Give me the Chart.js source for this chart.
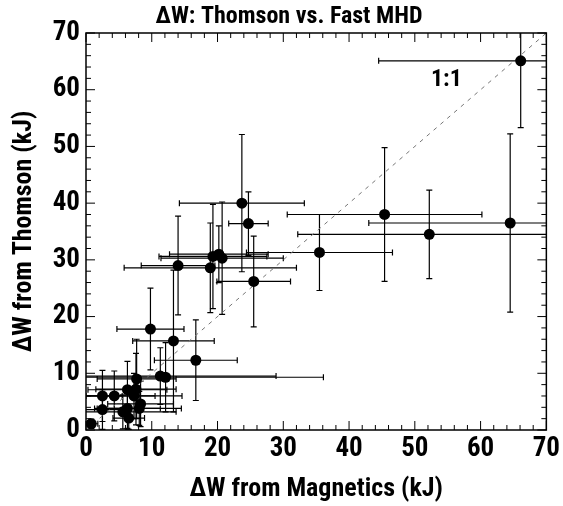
<!DOCTYPE html>
<html><head><meta charset="utf-8">
<script src="https://cdn.jsdelivr.net/npm/chart.js@4.4.1/dist/chart.umd.min.js"></script>
<style>html,body{margin:0;padding:0;background:#fff}#wrap{width:563px;height:506px;position:relative}</style>
</head><body><div id="wrap"><canvas id="c" width="563" height="506"></canvas></div>
<script>
const FONT = '"Roboto Condensed", "Liberation Sans", Arial, sans-serif';
const titleText = 'ΔW: Thomson vs. Fast MHD';
const xTitle = 'ΔW from Magnetics (kJ)';
const yTitle = 'ΔW from Thomson (kJ)';
const xTickValues = [0, 10, 20, 30, 40, 50, 60, 70];
const yTickValues = [0, 10, 20, 30, 40, 50, 60, 70];
const oneToOneX = [0, 70];
const oneToOneY = [0, 70];
const oneToOneLabel = '1:1';
const oneToOneLabelAt = [54.8, 61.7];

// ΔW from magnetics (x), ΔW from Thomson (y), and their errors (kJ)
const magneticsDW = [66.1, 64.5, 52.2, 45.4, 35.5, 25.5, 24.7, 23.7, 19.3, 20.2, 20.7, 18.9, 14.0, 9.8, 13.3, 16.7,
  0.8, 2.5, 2.5, 4.3, 6.3, 7.7, 7.6, 7.3, 5.6, 6.3, 6.5, 8.1, 8.3, 11.3, 12.1];
const thomsonDW = [65.1, 36.5, 34.5, 38.0, 31.3, 26.2, 36.4, 40.0, 30.6, 31.0, 30.3, 28.6, 29.0, 17.8, 15.7, 12.3,
  1.1, 6.0, 3.6, 6.0, 7.1, 9.0, 7.2, 6.0, 3.2, 3.8, 2.1, 3.8, 4.6, 9.5, 9.3];
const magneticsErr = [21.6, 21.5, 20.0, 14.8, 11.1, 5.6, 3.0, 9.5, 8.2, 7.5, 9.3, 13.1, 5.6, 5.1, 6.2, 6.3,
  1.0, 3.0, 4.0, 6.2, 6.0, 6.0, 6.1, 7.3, 8.1, 5.0, 2.4, 6.4, 5.0, 17.6, 24.0];
const thomsonErr = [11.8, 15.7, 7.8, 11.8, 6.7, 8.0, 5.6, 12.1, 9.2, 5.0, 9.9, 7.9, 8.7, 7.2, 12.5, 7.1,
  0.8, 4.5, 3.5, 4.4, 5.0, 7.0, 6.3, 4.0, 3.0, 3.5, 2.0, 3.0, 4.0, 5.0, 6.1];

const points = magneticsDW.map((x, i) => ({x: x, y: thomsonDW[i]}));
const diag = oneToOneX.map((x, i) => ({x: x, y: oneToOneY[i]}));

const extras = {
  id: 'extras',
  beforeDatasetsDraw(chart) {
    const {ctx, chartArea: a, scales: {x, y}} = chart;
    ctx.save();
    ctx.beginPath();
    ctx.rect(a.left, a.top, a.right - a.left, a.bottom - a.top);
    ctx.clip();
    ctx.strokeStyle = '#000';
    ctx.lineWidth = 1.2;
    const cap = 3;
    for (let i = 0; i < magneticsDW.length; i++) {
      const px = x.getPixelForValue(magneticsDW[i]);
      const py = y.getPixelForValue(thomsonDW[i]);
      const x1 = x.getPixelForValue(magneticsDW[i] - magneticsErr[i]);
      const x2 = x.getPixelForValue(magneticsDW[i] + magneticsErr[i]);
      const y1 = y.getPixelForValue(thomsonDW[i] - thomsonErr[i]);
      const y2 = y.getPixelForValue(thomsonDW[i] + thomsonErr[i]);
      ctx.beginPath();
      ctx.moveTo(x1, py); ctx.lineTo(x2, py);
      ctx.moveTo(x1, py - cap); ctx.lineTo(x1, py + cap);
      ctx.moveTo(x2, py - cap); ctx.lineTo(x2, py + cap);
      ctx.moveTo(px, y1); ctx.lineTo(px, y2);
      ctx.moveTo(px - cap, y1); ctx.lineTo(px + cap, y1);
      ctx.moveTo(px - cap, y2); ctx.lineTo(px + cap, y2);
      ctx.stroke();
    }
    ctx.restore();
  },
  afterDraw(chart) {
    const {ctx, chartArea: a, scales: {x, y}} = chart;
    ctx.save();
    ctx.strokeStyle = '#000';
    ctx.lineWidth = 1.5;
    ctx.strokeRect(a.left, a.top, a.right - a.left, a.bottom - a.top);
    ctx.lineWidth = 1;
    ctx.beginPath();
    for (let v = 0; v <= 70; v += 2) {
      const len = (v % 10 === 0) ? 9 : 5;
      const px = x.getPixelForValue(v);
      ctx.moveTo(px, a.bottom); ctx.lineTo(px, a.bottom - len);
      ctx.moveTo(px, a.top); ctx.lineTo(px, a.top + len);
      const py = y.getPixelForValue(v);
      ctx.moveTo(a.left, py); ctx.lineTo(a.left + len, py);
      ctx.moveTo(a.right, py); ctx.lineTo(a.right - len, py);
    }
    ctx.stroke();
    ctx.fillStyle = '#000';
    ctx.textAlign = 'center';
    ctx.textBaseline = 'middle';
    ctx.font = 'bold 24px ' + FONT;
    ctx.fillText(oneToOneLabel, x.getPixelForValue(oneToOneLabelAt[0]), y.getPixelForValue(oneToOneLabelAt[1]));
    ctx.font = 'bold 24px ' + FONT;
    ctx.fillText(titleText, 289, 17);
    ctx.restore();
  }
};

new Chart(document.getElementById('c'), {
  type: 'scatter',
  data: {
    datasets: [
      {data: points, pointRadius: 5.5, pointBackgroundColor: '#000', pointBorderWidth: 0, pointStyle: 'circle', showLine: false},
      {type: 'line', data: diag, borderColor: '#777', borderWidth: 1, borderDash: [4, 5], pointRadius: 0, fill: false}
    ]
  },
  options: {
    responsive: false, animation: false, devicePixelRatio: 1,
    layout: {padding: {top: 33, right: 15, left: 0, bottom: 0}},
    plugins: {legend: {display: false}, tooltip: {enabled: false}, title: {display: false}},
    scales: {
      x: {
        type: 'linear', min: 0, max: 70,
        afterBuildTicks(s) { s.ticks = xTickValues.map(v => ({value: v})); },
        ticks: {font: {family: FONT, size: 27, weight: 'bold'}, color: '#000', padding: 3, maxRotation: 0},
        grid: {display: false, drawTicks: false},
        border: {display: false},
        title: {display: true, text: xTitle, font: {family: FONT, size: 26, weight: 'bold'}, color: '#000', padding: {top: 0, bottom: 1}},
        afterFit(s) { s.height = 76; }
      },
      y: {
        type: 'linear', min: 0, max: 70,
        afterBuildTicks(s) { s.ticks = yTickValues.map(v => ({value: v})); },
        ticks: {font: {family: FONT, size: 27, weight: 'bold'}, color: '#000', padding: 6},
        grid: {display: false, drawTicks: false},
        border: {display: false},
        title: {display: true, text: yTitle, font: {family: FONT, size: 26, weight: 'bold'}, color: '#000', padding: {top: 9, bottom: 0}},
        afterFit(s) { s.width = 86; }
      }
    }
  },
  plugins: [extras]
});
</script></body></html>
